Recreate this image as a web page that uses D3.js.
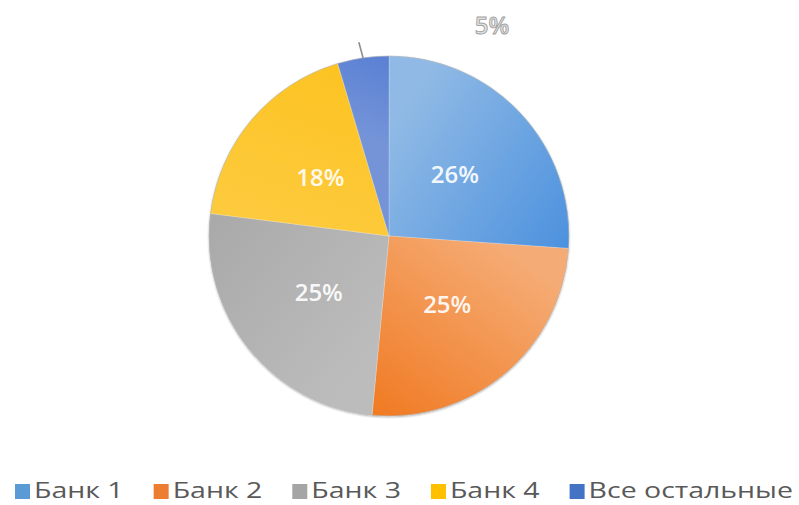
<!DOCTYPE html>
<html>
<head>
<meta charset="utf-8">
<script src="https://cdn.jsdelivr.net/npm/d3@7"></script>
<style>
  html, body { margin: 0; padding: 0; background: #ffffff; }
  svg { display: block; }
</style>
</head>
<body>
<svg id="chart" width="799" height="505"></svg>
<script>
// ---- data ----
const categories = ["Банк 1", "Банк 2", "Банк 3", "Банк 4", "Все остальные"];
const values = [26.1, 25.4, 25.5, 18.4, 4.6];
const valueLabels = ["26%", "25%", "25%", "18%", "5%"];
const lightColors = ["#90bae5", "#f5ab74", "#bcbcbc", "#fdca3c", "#7494d8"];
const darkColors  = ["#4c91de", "#f07a22", "#a9a9a9", "#fcc322", "#5a80d3"];
const legendColors = ["#5b9bd5", "#ed7d31", "#a5a5a5", "#ffc000", "#4472c4"];

// ---- layout ----
const cx = 389, cy = 236, R = 180;

const svg = d3.select("#chart");
const defs = svg.append("defs");

const pie = d3.pie().sort(null).value(d => d).startAngle(0).endAngle(2 * Math.PI);
const arcs = pie(values);
const arc = d3.arc().innerRadius(0).outerRadius(R);

// gradients per slice: from start edge (light) to end edge (dark)
arcs.forEach((a, i) => {
  const x1 = R * Math.sin(a.startAngle) * 0.6, y1 = -R * Math.cos(a.startAngle) * 0.6;
  const x2 = R * Math.sin(a.endAngle), y2 = -R * Math.cos(a.endAngle);
  const gr = defs.append("linearGradient")
    .attr("id", "grad" + i)
    .attr("gradientUnits", "userSpaceOnUse")
    .attr("x1", x1).attr("y1", y1).attr("x2", x2).attr("y2", y2);
  gr.append("stop").attr("offset", "0%").attr("stop-color", lightColors[i]);
  gr.append("stop").attr("offset", "100%").attr("stop-color", darkColors[i]);
});

const filt = defs.append("filter").attr("id", "shadow").attr("x", "-10%").attr("y", "-10%").attr("width", "120%").attr("height", "120%");
filt.append("feGaussianBlur").attr("in", "SourceAlpha").attr("stdDeviation", 1.2).attr("result", "b");
filt.append("feOffset").attr("in", "b").attr("dx", 0).attr("dy", 1).attr("result", "o");
filt.append("feComponentTransfer").attr("in", "o").attr("result", "o2")
  .append("feFuncA").attr("type", "linear").attr("slope", 0.35);
const fm = filt.append("feMerge");
fm.append("feMergeNode").attr("in", "o2");
fm.append("feMergeNode").attr("in", "SourceGraphic");

const g = svg.append("g").attr("transform", `translate(${cx},${cy})`);

g.append("g").attr("filter", "url(#shadow)")
  .selectAll("path")
  .data(arcs)
  .join("path")
  .attr("d", arc)
  .attr("fill", (d, i) => `url(#grad${i})`)
  .attr("stroke", "rgba(255,255,255,0.35)")
  .attr("stroke-width", 0.6);

g.append("circle").attr("r", R).attr("fill", "none")
  .attr("stroke", "#9c9c9c").attr("stroke-opacity", 0.55).attr("stroke-width", 0.8);

// inside labels
const labelFont = "'Open Sans', 'Segoe UI', sans-serif";
g.selectAll("text.inlbl")
  .data(arcs.slice(0, 4))
  .join("text")
  .attr("class", "inlbl")
  .attr("transform", d => {
    const [x, y] = arc.centroid(d);
    return `translate(${x},${y})`;
  })
  .attr("text-anchor", "middle")
  .attr("dy", "0.36em")
  .attr("font-family", labelFont)
  .attr("font-weight", 600)
  .attr("font-size", 24)
  .attr("fill", "#ffffff")
  .attr("fill-opacity", 0.93)
  .text((d, i) => valueLabels[i]);

// outside label for last slice with leader line
const last = arcs[4];
const midA = (last.startAngle + last.endAngle) / 2;
const p0 = [R * Math.sin(midA), -R * Math.cos(midA)];
const p1 = [(R + 16) * Math.sin(midA - 0.01), -(R + 16) * Math.cos(midA - 0.01)];
g.append("line")
  .attr("x1", p0[0]).attr("y1", p0[1]).attr("x2", p1[0]).attr("y2", p1[1])
  .attr("stroke", "#8c8c8c").attr("stroke-width", 1.6);

g.append("text")
  .attr("x", 492 - cx).attr("y", 25 - cy)
  .attr("text-anchor", "middle")
  .attr("dy", "0.36em")
  .attr("font-family", labelFont)
  .attr("font-weight", 600)
  .attr("font-size", 24)
  .attr("fill", "#e3e3e3")
  .attr("stroke", "#9f9f9f")
  .attr("stroke-width", 0.9)
  .text(valueLabels[4]);

// ---- legend ----
const legFont = "'Open Sans', 'Segoe UI', sans-serif";
const legendG = svg.append("g");
const sq = 15, sqGap = 4, itemGap = 30;
const items = legendG.selectAll("g.item").data(categories).join("g").attr("class", "item");
items.append("rect")
  .attr("width", sq).attr("height", sq)
  .attr("y", 484)
  .attr("fill", (d, i) => legendColors[i]);
const texts = items.append("text")
  .attr("y", 498)
  .attr("font-family", legFont)
  .attr("font-size", 22)
  .attr("fill", "#595959")
  .text(d => d);

// measure and fit legend to target span (15 .. 793)
const natural = [];
texts.each(function () { natural.push(this.getComputedTextLength()); });
const targetStart = 15, targetEnd = 793;
const fixed = categories.length * (sq + sqGap) + (categories.length - 1) * itemGap;
const k = (targetEnd - targetStart - fixed) / d3.sum(natural);
let xpos = targetStart;
items.each(function (d, i) {
  const it = d3.select(this);
  it.select("rect").attr("x", xpos);
  const tw = natural[i] * k;
  it.select("text").attr("x", xpos + sq + sqGap)
    .attr("textLength", tw).attr("lengthAdjust", "spacingAndGlyphs");
  xpos += sq + sqGap + tw + itemGap;
});
</script>
</body>
</html>
